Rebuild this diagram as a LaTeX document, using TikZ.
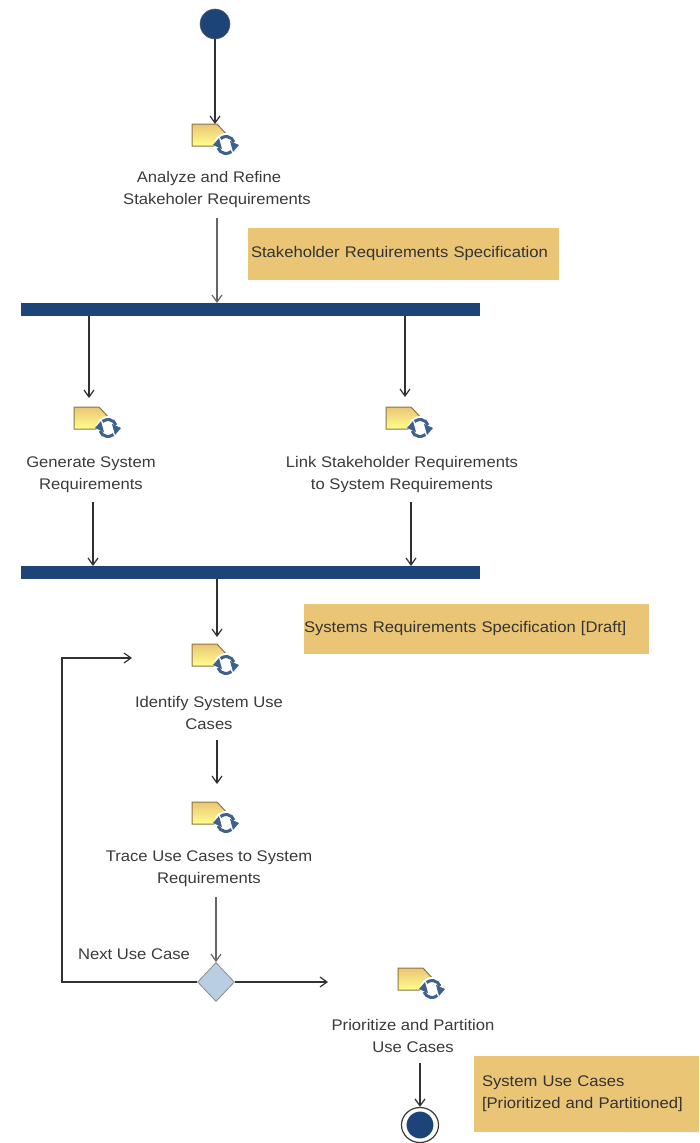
\documentclass[tikz,border=0pt]{standalone}
\usepackage{fontspec}
\setmainfont[FakeStretch=1.08]{Liberation Sans}
\usetikzlibrary{arrows.meta,shapes.geometric,calc}
\definecolor{navy}{HTML}{1C4479}
\definecolor{notecol}{HTML}{EAC576}
\definecolor{diacol}{HTML}{B9CDE3}
\definecolor{inkcol}{HTML}{3A3A3A}
\tikzset{
  x=1pt,y=-1pt,
  flow/.style={draw=inkcol!85!black,line width=1.5pt,-{Straight Barb[length=7pt,width=10pt,line width=1.2pt]}},
  flowgray/.style={flow,draw=black!60},
  bar/.style={rectangle,fill=navy,draw=none,minimum height=13pt,inner sep=0pt,outer sep=0pt},
  lbl/.style={font=\fontsize{15.4}{22}\selectfont,text=inkcol,align=center,inner sep=0pt},
  notebox/.style={rectangle,fill=notecol,draw=none,inner sep=0pt,outer sep=0pt,font=\fontsize{15.4}{22}\selectfont,text=black!80},
  iconbox/.style={rectangle,draw=none,minimum width=44pt,minimum height=34pt,inner sep=0pt,outer sep=0pt},
  acticon/.pic={
    \path[bottom color=yellow!45!white,top color=notecol,draw=black!40!notecol,line width=1pt]
      (0,0) -- (25,0) -- (37,13) -- (37,22) -- (0,22) -- cycle;
    \fill[white] (34,21) circle[radius=12];
    \draw[navy!85!white,line width=3pt] (34,21) ++(160:8.5) arc[start angle=160,end angle=50,radius=8.5];
    \draw[navy!85!white,line width=3pt] (34,21) ++(-20:8.5) arc[start angle=-20,end angle=-130,radius=8.5];
    \fill[navy!85!white] (47,21) -- (38,17) -- (41,28) -- cycle;
    \fill[navy!85!white] (21,21) -- (30,25) -- (27,14) -- cycle;
  }
}
\begin{document}
\begin{tikzpicture}
\useasboundingbox (0,0) rectangle (699,1143);
% notes
\node[notebox,minimum width=311pt,minimum height=52pt,text width=305pt,align=left] (n1) at (403.5,254) {Stakeholder Requirements Specification};
\node[notebox,minimum width=345pt,minimum height=50pt,text width=345pt,align=left] (n2) at (476.5,629) {Systems Requirements Specification [Draft]};
\node[notebox,minimum width=225pt,minimum height=76pt,text width=209pt,align=left] (n3) at (586.5,1094) {System Use Cases\\{[}Prioritized and Partitioned{]}};
% start and bars
\node[circle,fill=navy,draw=black!60,line width=.6pt,minimum size=30pt,inner sep=0pt] (start) at (215,24) {};
\node[bar,minimum width=459pt] (bar1) at (250.5,309.5) {};
\node[bar,minimum width=459pt] (bar2) at (250.5,572.5) {};
% icons
\node[iconbox] (i1) at (215,132) {}; \pic at (192,124) {acticon};
\node[iconbox] (i2) at (96,415) {}; \pic at (74,407) {acticon};
\node[iconbox] (i3) at (408,415) {}; \pic at (386,407) {acticon};
\node[iconbox] (i4) at (214,652) {}; \pic at (192,644) {acticon};
\node[iconbox] (i5) at (214,810) {}; \pic at (192,802) {acticon};
\node[iconbox] (i6) at (420,976) {}; \pic at (398,968) {acticon};
% labels
\node[lbl] (l1) at (217,190) {Analyze and Refine\hspace*{16pt}\\Stakeholer Requirements};
\node[lbl] (l2) at (91,475) {Generate System\\Requirements};
\node[lbl] (l3) at (402,475) {Link Stakeholder Requirements\\to System Requirements};
\node[lbl] (l4) at (209,713) {Identify System Use\\Cases};
\node[lbl] (l5) at (209,869) {Trace Use Cases to System\\Requirements};
\node[lbl] (l6) at (413,1036) {Prioritize and Partition\\Use Cases};
\node[lbl] (guard) at (134,954) {Next Use Case};
% decision, end
\node[diamond,aspect=1,fill=diacol,draw=black!45,line width=.8pt,minimum width=37pt,minimum height=39pt,inner sep=0pt] (dec) at (216,982) {};
\node[circle,fill=navy,draw=white,line width=2pt,minimum size=29pt,inner sep=0pt] (end) at (420,1125) {};
\node[ellipse,draw=inkcol,line width=1.2pt,minimum width=37pt,minimum height=35pt,inner sep=0pt] (endring) at (420,1125) {};
\coordinate (loopin) at (132,658);
\coordinate (exit) at (328,982);
% connectors
\draw[flow] (start.south) -- ([yshift=-9pt]i1.north);
\draw[flowgray] ([yshift=-10pt]l1.south) -- (l1.south |- bar1.north);
\draw[flow] (bar1.south -| i2.north) ++(-7,0) -- ++(0,82);
\draw[flow] (bar1.south -| i3.north) ++(-3,0) -- ++(0,81);
\draw[flow] ([yshift=-9pt]l2.south) ++(2,0) -- ($(l2.south |- bar2.north)+(2,0)$);
\draw[flow] ([yshift=-9pt]l3.south) ++(9,0) -- ($(l3.south |- bar2.north)+(9,0)$);
\draw[flow] (bar2.south -| i4.north) ++(3,0) -- ++(0,58);
\draw[flow] ([yshift=-10pt]l4.south) ++(8,0) -- ($(i5.north)+(3,-9)$);
\draw[flowgray] ([yshift=-10pt]l5.south) ++(7,0) -- (dec.north);
\draw[flow] (dec.west) -| (62,658) -- (loopin);
\draw[flow] (dec.east) -- (exit);
\draw[flow] ([yshift=-10pt]l6.south) ++(7,0) -- (endring.north);
\end{tikzpicture}
\end{document}
